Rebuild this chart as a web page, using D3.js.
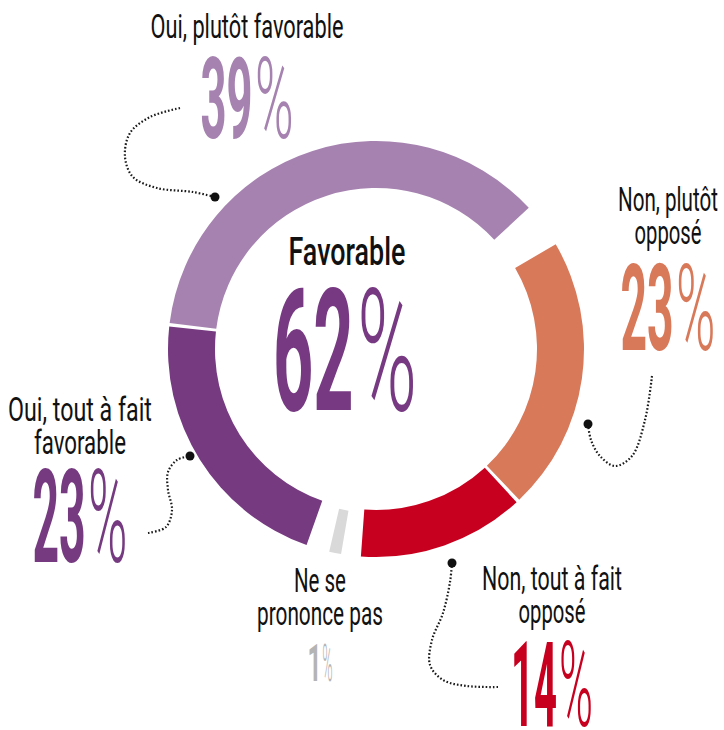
<!DOCTYPE html>
<html>
<head>
<meta charset="utf-8">
<script src="https://cdn.jsdelivr.net/npm/d3@7"></script>
<style>
  body { margin: 0; background: #fff; }
  svg { display: block; }
  text { font-family: Roboto, "Liberation Sans", sans-serif; }
</style>
</head>
<body>
<div id="chart"></div>
<script>
// Survey answers, clockwise from the bottom-left segment
var categories = ["Oui, tout à fait favorable", "Oui, plutôt favorable", "Non, plutôt opposé", "Non, tout à fait opposé", "Ne se prononce pas"];
var values = [23, 39, 23, 14, 1];
var labelLines = [["Oui, tout à fait", "favorable"], ["Oui, plutôt favorable"], ["Non, plutôt", "opposé"], ["Non, tout à fait", "opposé"], ["Ne se", "prononce pas"]];
var centerLabel = "Favorable";

var width = 724, height = 730;
var cx = 376, cy = 349, rOuter = 208, rInner = 161;

var ringColors = ["#763a80", "#a682b0", "#d8795a", "#c8001f", "#d9d9d9"];
var textColors = ["#763a80", "#a682b0", "#d8795a", "#c8001f", "#b4b4b4"];

// gap (degrees) left after each segment, and where the first one starts
var gapsAfter = [1, 12.5, 1, 5.5, 6.5];
var startDeg = 199.5;

// label layout: centre x, first baseline, line widths, number box
var labelLayout = [
    { x: 80, y: 421, widths: [144, 92], numTop: 470, numBottom: 562, numWidth: 95 },
    { x: 247, y: 38, widths: [193], numTop: 58, numBottom: 138, numWidth: 93 },
    { x: 668, y: 211, widths: [100, 67], numTop: 264, numBottom: 350, numWidth: 95 },
    { x: 552, y: 590, widths: [140, 67], numTop: 641, numBottom: 726, numWidth: 82 },
    { x: 320, y: 592, widths: [52, 126], numTop: 644, numBottom: 681, numWidth: 25 }
];

// dotted leader lines, ending with a dot next to the ring
var leaders = [
    [[148, 533], [166, 527], [172, 510], [168, 490], [168, 472], [177, 460], [190, 456]],
    [[180, 108], [150, 117], [130, 133], [125, 157], [133, 177], [157, 188], [193, 192], [215, 197]],
    [[652, 376], [645, 420], [632, 456], [615, 466], [600, 456], [591, 440], [588, 424]],
    [[498, 687], [467, 686], [443, 680], [430, 665], [432, 640], [443, 613], [450, 582], [452, 563]]
];

var svg = d3.select("#chart")
    .append("svg")
    .attr("width", width)
    .attr("height", height);

// percent -> degrees of ring, leaving room for the gaps
var angle = d3.scaleLinear()
    .domain([0, 100])
    .range([0, 360 - d3.sum(gapsAfter)]);

var segments = [];
var a = startDeg;
values.forEach(function(v, i) {
    segments.push({ i: i, start: a, end: a + angle(v) });
    a += angle(v) + gapsAfter[i];
});

var rad = Math.PI / 180;
var arc = d3.arc()
    .innerRadius(function(d) { return d.i === 4 ? rInner + 3 : rInner; })
    .outerRadius(rOuter)
    .startAngle(function(d) { return d.start * rad; })
    .endAngle(function(d) { return d.end * rad; });

svg.append("g")
    .attr("transform", "translate(" + cx + "," + cy + ")")
    .selectAll("path")
    .data(segments)
    .enter()
    .append("path")
    .attr("d", arc)
    .attr("fill", function(d) { return ringColors[d.i]; });

// leader lines
var line = d3.line().curve(d3.curveCatmullRom);
leaders.forEach(function(pts) {
    svg.append("path")
        .attr("d", line(pts))
        .attr("fill", "none")
        .attr("stroke", "#1a1a1a")
        .attr("stroke-width", 2.2)
        .attr("stroke-dasharray", "1.6,2");
    var end = pts[pts.length - 1];
    svg.append("circle")
        .attr("cx", end[0])
        .attr("cy", end[1])
        .attr("r", 4.5)
        .attr("fill", "#111");
});

// text squeezed horizontally to a given width (condensed look)
function fitText(x, baseline, w, str, size, weight, color) {
    var t = svg.append("text")
        .attr("font-size", size)
        .attr("font-weight", weight)
        .attr("fill", color)
        .text(str);
    var natural = t.node().getComputedTextLength();
    t.attr("transform", "translate(" + x + "," + baseline + ") scale(" + (w / natural) + ",1)");
}

// big percentage: heavy digits, thin % sign
function bigNumber(cxText, top, bottom, w, value, color) {
    var size = (bottom - top) / 0.711;
    var left = cxText - w / 2;
    fitText(left, bottom, w * 0.56, String(value), size, 700, color);
    fitText(left + w * 0.585, bottom, w * 0.415, "%", size, 300, color);
}

labelLines.forEach(function(lines, i) {
    var L = labelLayout[i];
    lines.forEach(function(s, j) {
        fitText(L.x - L.widths[j] / 2, L.y + j * 33, L.widths[j], s, 33, 400, "#111");
    });
    bigNumber(L.x, L.numTop, L.numBottom, L.numWidth, values[i], textColors[i]);
});

// centre: total of the two favourable answers
fitText(347 - 117 / 2, 265, 117, centerLabel, 39, 500, "#111");
bigNumber(345, 288, 410, 144, values[0] + values[1], "#773a82");
</script>
</body>
</html>
